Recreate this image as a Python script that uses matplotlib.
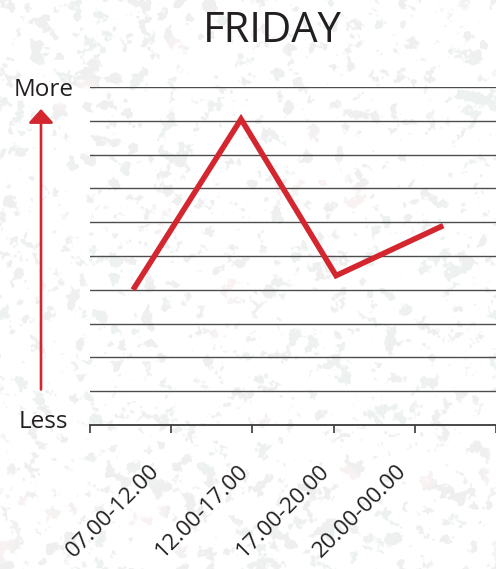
import numpy as np
import matplotlib
matplotlib.use("Agg")
import matplotlib.pyplot as plt
import matplotlib.transforms as mtransforms

# ---- data ----
periods = ["07.00-12.00", "12.00-17.00", "17.00-20.00", "20.00-00.00"]
point_x = [0.53, 1.86, 3.03, 4.35]          # horizontal position of each point
activity = [4.0, 9.05, 4.42, 5.9]            # relative level (0 = Less, 10 = More)
label_x = [0.73, 1.82, 2.82, 3.77]           # where each period label ends
grid_levels = list(range(1, 11))
axis_ticks = list(range(0, 6))

W, H = 496, 569
RED = "#d3262e"
TEXT = "#231f20"

plt.rcParams["font.family"] = ["Open Sans", "DejaVu Sans"]

fig = plt.figure(figsize=(W / 100, H / 100), dpi=100)
fig.patch.set_facecolor("white")

# ---- speckled paper background ----
def smooth_field(seed, sigma):
    rng = np.random.default_rng(seed)
    n = rng.standard_normal((H, W))
    fy = np.fft.fftfreq(H)[:, None]
    fx = np.fft.fftfreq(W)[None, :]
    g = np.exp(-2 * (np.pi * sigma) ** 2 * (fx ** 2 + fy ** 2))
    f = np.real(np.fft.ifft2(np.fft.fft2(n) * g))
    return (f - f.mean()) / f.std()

shape = smooth_field(3, 3.6) + 0.45 * smooth_field(5, 1.2)
hue = smooth_field(11, 12.0)
amount = np.clip((shape - 0.85) / 0.6, 0, 1) * 0.24
grey = np.array([0.74, 0.75, 0.76])
pink = np.array([0.94, 0.82, 0.80])
green = np.array([0.72, 0.79, 0.77])
wp = np.clip((hue - 1.1) / 0.8, 0, 1)[..., None] * 0.8
wg = np.clip((-hue - 0.1) / 0.7, 0, 1)[..., None]
tint = grey * (1 - wp - wg * (1 - wp)) + pink * wp + green * wg * (1 - wp)
img = 1 - amount[..., None] * (1 - tint)
img = np.clip(img, 0, 1)
fig.figimage(img, 0, 0, origin="upper", zorder=-10)

# ---- axes ----
left, right = 90 / W, 1.0
bottom, top = 1 - 425 / H, 1 - 87 / H
ax = fig.add_axes([left, bottom, right - left, top - bottom])
ax.patch.set_alpha(0)
ax.set_xlim(0, 5)
ax.set_ylim(0, 10)

for s in ("top", "right", "left"):
    ax.spines[s].set_visible(False)
ax.spines["bottom"].set_color("#3a3a3a")
ax.spines["bottom"].set_linewidth(1.3)

ax.set_yticks(grid_levels)
ax.yaxis.grid(True, color="#4d4d4d", linewidth=1.0)
ax.tick_params(axis="y", length=0, labelleft=False)
ax.set_axisbelow(True)

ax.set_xticks(axis_ticks)
ax.tick_params(axis="x", direction="out", length=6, width=1.2,
               color="#3a3a3a", labelbottom=False)
for t in ax.xaxis.get_major_ticks():
    t.tick1line.set_clip_on(False)

# period labels, rotated, ending just below the axis
lbl_trans = mtransforms.blended_transform_factory(ax.transData, ax.transAxes)
for xp, name in zip(label_x, periods):
    ax.text(xp, -35 / (425 - 87), name, transform=lbl_trans, rotation=45,
            rotation_mode="anchor", ha="right", va="top",
            fontsize=16.2, color=TEXT)

# activity line
ax.plot(point_x, activity, color=RED, linewidth=4.0,
        solid_joinstyle="miter", solid_capstyle="butt", clip_on=False)

# ---- Less -> More arrow ----
arr_trans = mtransforms.blended_transform_factory(fig.transFigure, ax.transData)
ax.annotate("", xy=(41 / W, 9.35), xytext=(41 / W, 1.05),
            xycoords=arr_trans, textcoords=arr_trans,
            arrowprops=dict(arrowstyle="-|>,head_length=0.42,head_width=0.38",
                            mutation_scale=20, color=RED, lw=1.9,
                            shrinkA=0, shrinkB=0), annotation_clip=False)

fig.text(14 / W, 1 - 96 / H, "More", fontsize=17.5, color=TEXT,
         ha="left", va="baseline")
fig.text(19 / W, 1 - 428 / H, "Less", fontsize=17.5, color=TEXT,
         ha="left", va="baseline")
fig.text(272 / W, 1 - 42 / H, "FRIDAY", fontsize=30, color=TEXT,
         ha="center", va="baseline")

fig.savefig("out.png", dpi=100)
